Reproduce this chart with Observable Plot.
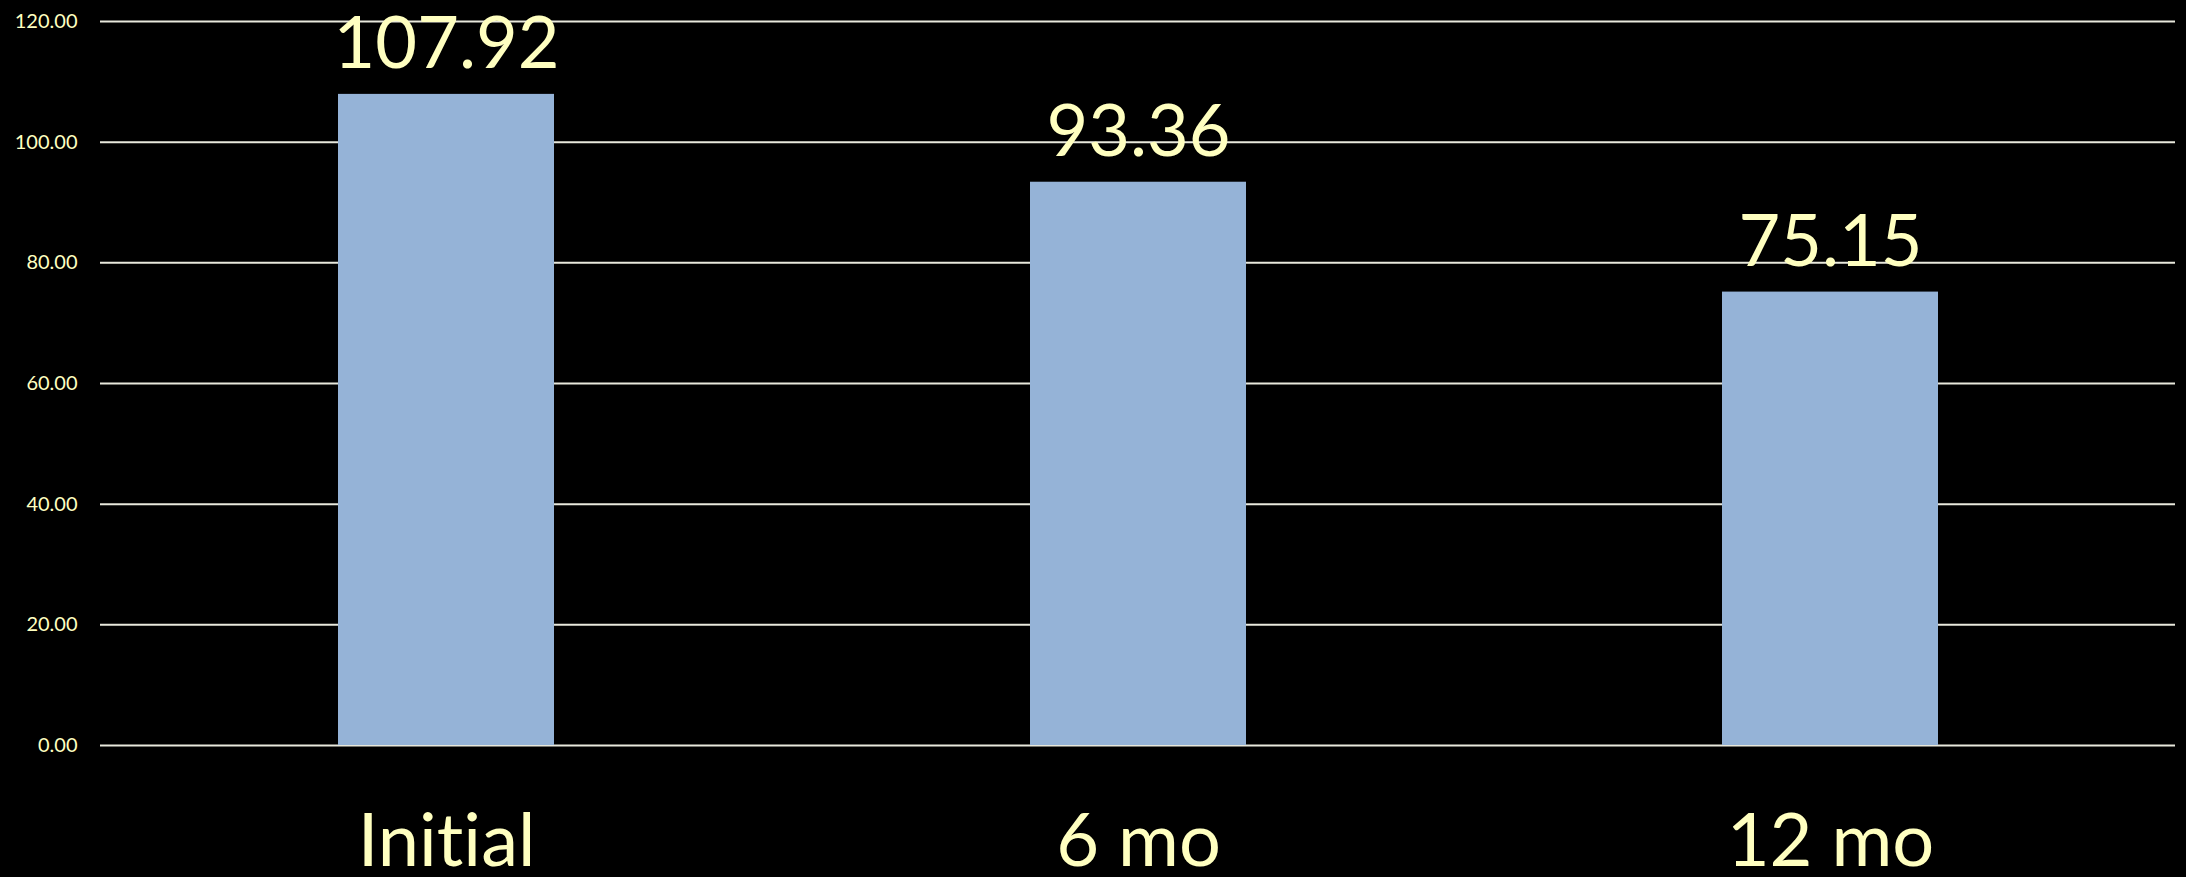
<!DOCTYPE html>
<html>
<head>
<meta charset="utf-8">
<script src="https://cdn.jsdelivr.net/npm/d3@7"></script>
<script src="https://cdn.jsdelivr.net/npm/@observablehq/plot@0.6"></script>
<style>
  html, body { margin: 0; padding: 0; background: #000; }
  #chart svg { display: block; font-variant-ligatures: none; }
  #chart svg text { font-variant-ligatures: none; }
</style>
</head>
<body>
<div id="chart"></div>
<script>
const categories = ["Initial", "6 mo", "12 mo"];
const values = [107.92, 93.36, 75.15];
const yTicks = [0, 20, 40, 60, 80, 100, 120];

const data = categories.map((c, i) => ({ category: c, value: values[i] }));
const textColor = "#FFFFC0";
const font = "Lato, 'Open Sans', sans-serif";

const chart = Plot.plot({
  width: 2186,
  height: 877,
  marginLeft: 100,
  marginRight: 11,
  marginTop: 21,
  marginBottom: 132,
  style: { background: "#000", color: textColor, fontFamily: font },
  x: { domain: categories, paddingInner: 0.688, paddingOuter: 0.343, label: null },
  y: { domain: [0, 120], label: null },
  marks: [
    Plot.ruleY(yTicks, { stroke: "#E8E8DC", strokeWidth: 2 }),
    Plot.barY(data, { x: "category", y: "value", fill: "#95B3D7" }),
    Plot.text(data, {
      x: "category", y: "value", text: d => d.value.toFixed(2),
      lineAnchor: "bottom", dy: -26, fontSize: 72, fill: textColor
    }),
    Plot.axisY({ ticks: yTicks, tickFormat: d3.format(".2f"), tickSize: 0, tickPadding: 23, fontSize: 20, fill: textColor }),
    Plot.axisX({ tickSize: 0, tickPadding: 68, fontSize: 74, fill: textColor })
  ]
});
document.getElementById("chart").appendChild(chart);
</script>
</body>
</html>
